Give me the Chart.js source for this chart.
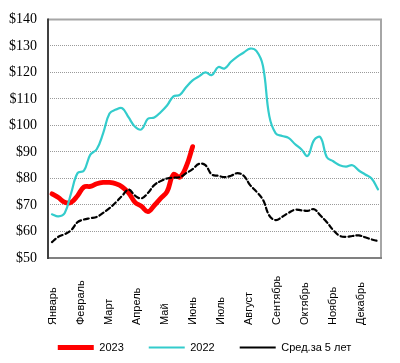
<!DOCTYPE html>
<html>
<head>
<meta charset="utf-8">
<script src="https://cdn.jsdelivr.net/npm/chart.js@4.4.0/dist/chart.umd.min.js"></script>
<style>
  html, body { margin: 0; padding: 0; background: #fff; }
  #wrap { width: 400px; height: 363px; }
</style>
</head>
<body>
<div id="wrap"><canvas id="priceChart"></canvas></div>
<script>
// weekly prices, week 0 = start of January
const MONTHS = ["Январь","Февраль","Март","Апрель","Май","Июнь","Июль","Август","Сентябрь","Октябрь","Ноябрь","Декабрь"];
const MONTH_WEEKS = [0, 4.38, 8.76, 13.14, 17.52, 21.9, 26.28, 30.66, 35.04, 39.42, 43.8, 48.18];
const Y_MIN = 50, Y_MAX = 140, Y_STEP = 10;

const PRICES_2023 = [74.2, 72.8, 71, 71, 73.5, 76.8, 77, 78, 78.5, 78.5, 78, 76.8,
  74.5, 71, 69.5, 67.5, 69.8, 72.5, 75, 81.5, 80.5, 84.5, 92];

const PRICES_2022 = [66.5, 65.7, 67, 74.5, 82, 83, 89, 91, 97, 104.5, 106, 106.5,
  103, 99.5, 98.5, 102.5, 103, 105, 107.5, 111, 111.5, 114.5, 117, 118.5,
  120, 119, 122, 121.5, 124, 126, 127.5, 129, 128, 122.5, 103.5, 97,
  96, 95.3, 93, 91, 88.5, 94.5, 95.5, 88, 86.5, 85, 84.5, 85,
  83, 81.5, 80, 75.9];

const PRICES_AVG5 = [56, 58, 59, 60.5, 63.5, 64.5, 65, 65.5, 67, 68.8, 71, 73.5,
  75.8, 73.5, 72.5, 74.5, 77.5, 79, 80, 80.3, 80.5, 82, 83.5, 85.5,
  85, 81.5, 81, 80.5, 81, 82, 81, 77.5, 75, 72, 66, 64.3,
  65.5, 67, 68.2, 68, 67.8, 68.4, 66, 63.5, 60.5, 58.4, 58, 58.3,
  58.5, 57.8, 57, 56.4];

const toPoints = arr => arr.map((v, i) => ({ x: i, y: v }));

const frame = {
  id: "frame",
  afterDatasetsDraw(chart) {
    const { ctx, chartArea: a } = chart;
    ctx.save();
    ctx.lineWidth = 2;
    ctx.strokeStyle = "#a6a6a6";
    ctx.beginPath();
    ctx.moveTo(a.left, a.top); ctx.lineTo(a.right, a.top); ctx.lineTo(a.right, a.bottom);
    ctx.stroke();
    ctx.strokeStyle = "#808080";
    ctx.beginPath();
    ctx.moveTo(a.left, a.bottom); ctx.lineTo(a.right + 1, a.bottom);
    ctx.stroke();
    ctx.strokeStyle = "#404040";
    ctx.beginPath();
    ctx.moveTo(a.left, a.top - 1); ctx.lineTo(a.left, a.bottom + 1);
    ctx.stroke();
    ctx.restore();
  }
};

// month labels read bottom-to-top, lined up at their start
const monthLabels = {
  id: "monthLabels",
  afterDraw(chart) {
    const { ctx } = chart;
    const xs = chart.scales.x;
    ctx.save();
    ctx.font = '11px "Liberation Sans", Arial, sans-serif';
    ctx.fillStyle = "#000";
    ctx.textAlign = "left";
    ctx.textBaseline = "middle";
    MONTHS.forEach((m, i) => {
      const x = xs.getPixelForValue(MONTH_WEEKS[i]);
      ctx.save();
      ctx.translate(x + 1, 325);
      ctx.rotate(-Math.PI / 2);
      ctx.fillText(m, 0, 0);
      ctx.restore();
    });
    ctx.restore();
  }
};

// legend in the original sits a little right of centre
const legendNudge = {
  id: "legendNudge",
  afterLayout(chart) {
    chart.legend.left += 10;
    chart.legend.right += 10;
  }
};

new Chart(document.getElementById("priceChart"), {
  type: "line",
  data: {
    datasets: [
      {
        label: "2023",
        data: toPoints(PRICES_2023),
        borderColor: "#ff0000",
        backgroundColor: "#ff0000",
        borderWidth: 4.8,
        order: 3,
      },
      {
        label: "2022",
        data: toPoints(PRICES_2022),
        borderColor: "#33cccc",
        backgroundColor: "#33cccc",
        borderWidth: 2.2,
        order: 2,
      },
      {
        label: "Сред.за 5 лет",
        data: toPoints(PRICES_AVG5),
        borderColor: "#000",
        backgroundColor: "#000",
        borderWidth: 2.2,
        borderDash: [5, 3],
        order: 1,
      },
    ]
  },
  options: {
    responsive: true,
    maintainAspectRatio: false,
    animation: false,
    layout: { padding: { left: 8, right: 19, top: 18, bottom: 0 } },
    elements: {
      point: { radius: 0, hoverRadius: 0 },
      line: { tension: 0.4, fill: false, borderCapStyle: "round" }
    },
    scales: {
      x: {
        type: "linear",
        min: -0.62,
        max: 51.47,
        ticks: { display: false },
        grid: { display: false },
        border: { display: false },
        afterFit: s => { s.height = 59; }
      },
      y: {
        min: Y_MIN,
        max: Y_MAX,
        ticks: {
          stepSize: Y_STEP,
          padding: 11,
          color: "#000",
          font: { family: '"Liberation Serif", "Times New Roman", serif', size: 14 },
          callback: v => "$" + v
        },
        grid: {
          drawTicks: false,
          color: ctx => (ctx.tick && (ctx.tick.value === Y_MIN || ctx.tick.value === Y_MAX)) ? "rgba(0,0,0,0)" : "#9a9a9a",
          lineWidth: 1
        },
        border: { display: false, dash: [1, 1] },
        afterFit: s => { s.width = 40; }
      }
    },
    plugins: {
      tooltip: { enabled: false },
      legend: {
        position: "bottom",
        labels: {
          usePointStyle: true,
          pointStyle: "line",
          pointStyleWidth: 36,
          padding: 25,
          color: "#000",
          font: { family: '"Liberation Sans", Arial, sans-serif', size: 11 },
          sort: (a, b) => a.datasetIndex - b.datasetIndex
        }
      }
    }
  },
  plugins: [frame, monthLabels, legendNudge]
});
</script>
</body>
</html>
